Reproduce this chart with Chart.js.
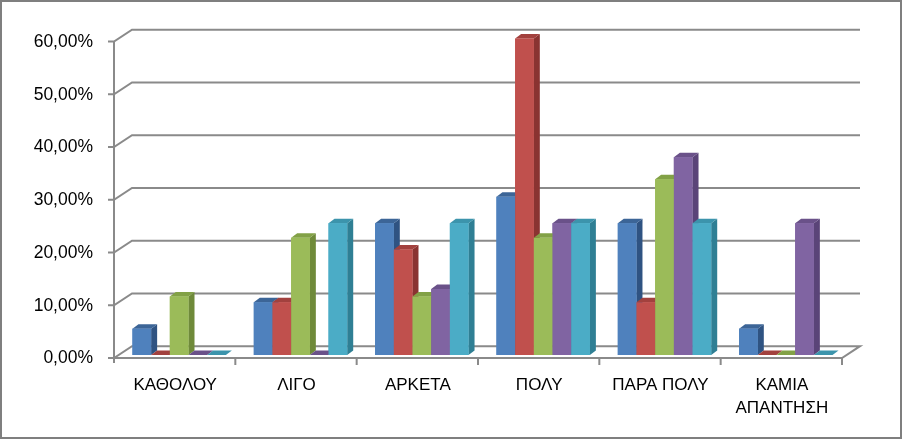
<!DOCTYPE html>
<html><head><meta charset="utf-8">
<script src="https://cdn.jsdelivr.net/npm/chart.js@4.4.1/dist/chart.umd.min.js"></script>
<style>html,body{margin:0;padding:0;background:#fff;} canvas{display:block;}</style>
</head><body>
<canvas id="c" width="903" height="440"></canvas>
<script>
const categories = ['ΚΑΘΟΛΟΥ', 'ΛΙΓΟ', 'ΑΡΚΕΤΑ', 'ΠΟΛΥ', 'ΠΑΡΑ ΠΟΛΥ', ['ΚΑΜΙΑ', 'ΑΠΑΝΤΗΣΗ']];
const series1 = [5, 10, 25, 30, 25, 5];
const series2 = [0, 10, 20, 60, 10, 0];
const series3 = [11.11, 22.22, 11.11, 22.22, 33.33, 0];
const series4 = [0, 0, 12.5, 25, 37.5, 25];
const series5 = [0, 25, 25, 25, 25, 0];
const yTicks = [0, 10, 20, 30, 40, 50, 60];

const frontColors = ['#4F81BD', '#C0504D', '#9BBB59', '#8064A2', '#4BACC6'];
const sideColors  = ['#2F5382', '#8A3331', '#6F8A3A', '#5A4478', '#2F7F94'];
const topColors   = ['#3C6597', '#A2413E', '#82A146', '#6A5189', '#3C94AC'];

const GRID = '#8a8a8a';
const FRONT = {x: -4.5, y: 3};
const BACK = {x: 13.5, y: -8.8};
const SIDE = {x: 6, y: -4.5};

Chart.defaults.font.family = "'Liberation Sans', Arial, sans-serif";
Chart.defaults.font.size = 17;
Chart.defaults.color = '#000';

const frame3d = {
  id: 'frame3d',
  beforeDraw(chart) {
    const ctx = chart.ctx;
    ctx.save();
    ctx.fillStyle = '#fff';
    ctx.fillRect(0, 0, chart.width, chart.height);
    ctx.strokeStyle = '#7f7f7f';
    ctx.lineWidth = 2;
    ctx.strokeRect(1, 1, 900, 437);
    ctx.restore();
  },
  beforeDatasetsDraw(chart) {
    const {ctx, chartArea: a, scales: {x, y}} = chart;
    ctx.save();
    ctx.strokeStyle = GRID;
    ctx.lineWidth = 2;
    const fl = a.left + FRONT.x, fr = a.right + FRONT.x;
    const bl = a.left + BACK.x, br = a.right + BACK.x;
    yTicks.forEach(v => {
      const py = y.getPixelForValue(v);
      const fy = py + FRONT.y, by = py + BACK.y;
      ctx.beginPath();
      ctx.moveTo(fl - 6, fy);
      ctx.lineTo(fl, fy);
      ctx.lineTo(bl, by);
      ctx.lineTo(br, by);
      if (v === 0) { ctx.lineTo(fr, fy); ctx.lineTo(fl, fy); }
      ctx.stroke();
    });
    const fy0 = y.getPixelForValue(0) + FRONT.y;
    ctx.beginPath();
    ctx.moveTo(fl, y.getPixelForValue(60) + FRONT.y);
    ctx.lineTo(fl, fy0 + 5);
    const n = categories.length;
    for (let i = 1; i <= n; i++) {
      const px = fl + (fr - fl) * i / n;
      ctx.moveTo(px, fy0);
      ctx.lineTo(px, fy0 + 7);
    }
    ctx.stroke();
    ctx.restore();
  },
  afterDatasetsDraw(chart) {
    const ctx = chart.ctx;
    const nds = chart.data.datasets.length;
    ctx.save();
    for (let i = 0; i < categories.length; i++) {
      for (let d = 0; d < nds; d++) {
        const el = chart.getDatasetMeta(d).data[i];
        const p = el.getProps(['x', 'y', 'base', 'width'], true);
        const l = p.x - p.width / 2, r = p.x + p.width / 2;
        const t = Math.min(p.y, p.base), b = Math.max(p.y, p.base);
        ctx.fillStyle = sideColors[d];
        ctx.beginPath();
        ctx.moveTo(r, t); ctx.lineTo(r + SIDE.x, t + SIDE.y);
        ctx.lineTo(r + SIDE.x, b + SIDE.y); ctx.lineTo(r, b);
        ctx.closePath(); ctx.fill();
        ctx.fillStyle = topColors[d];
        ctx.beginPath();
        ctx.moveTo(l, t); ctx.lineTo(l + SIDE.x, t + SIDE.y);
        ctx.lineTo(r + SIDE.x, t + SIDE.y); ctx.lineTo(r, t);
        ctx.closePath(); ctx.fill();
        if (b - t > 0) {
          ctx.fillStyle = frontColors[d];
          ctx.fillRect(l, t, r - l, b - t);
        }
      }
    }
    ctx.restore();
  }
};

const seriesList = [series1, series2, series3, series4, series5];
new Chart(document.getElementById('c'), {
  type: 'bar',
  data: {
    labels: categories,
    datasets: seriesList.map((s, k) => ({
      label: 'Σειρά ' + (k + 1),
      data: s,
      backgroundColor: frontColors[k],
      borderWidth: 0,
      categoryPercentage: 0.77,
      barPercentage: 1.0
    }))
  },
  options: {
    responsive: false,
    animation: false,
    layout: {padding: {left: 0, top: 38.5, right: 56.5, bottom: 0}},
    plugins: {legend: {display: false}, tooltip: {enabled: false}},
    scales: {
      x: {
        grid: {display: false, drawTicks: false},
        border: {display: false},
        ticks: {
          color: '#000',
          font: {size: 17, lineHeight: 1.4},
          padding: 18.1,
          labelOffset: -4,
          maxRotation: 0,
          autoSkip: false
        },
        afterFit(s) { s.height = 85; }
      },
      y: {
        min: 0, max: 60,
        grid: {display: false, drawTicks: false},
        border: {display: false},
        ticks: {
          stepSize: 10,
          color: '#000',
          font: {size: 17.5},
          padding: 25.5,
          labelOffset: 3.5,
          callback: v => v.toFixed(2).replace('.', ',') + '%'
        },
        afterFit(s) { s.width = 118.5; }
      }
    }
  },
  plugins: [frame3d]
});
</script>
</body></html>
